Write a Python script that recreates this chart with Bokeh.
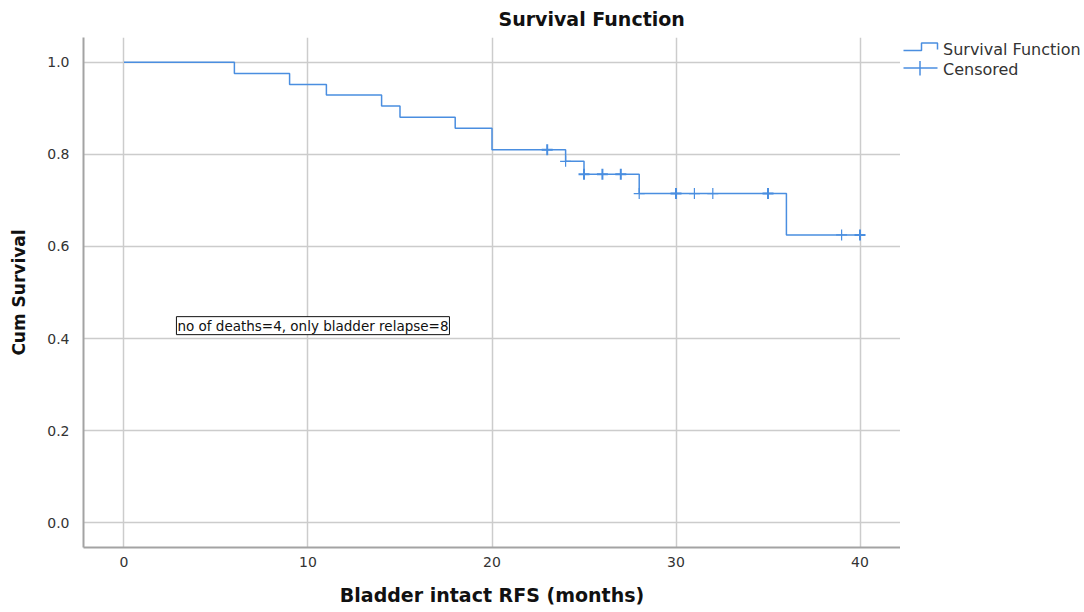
import numpy as np
from bokeh.plotting import figure
from bokeh.layouts import row
from bokeh.models import (FixedTicker, PrintfTickFormatter, Label,
                          ColumnDataSource, Range1d)
from bokeh.core.properties import value
from bokeh.embed import file_html
from bokeh.resources import INLINE

# ---- data ----
event_times = [0, 6, 9, 11, 14, 15, 18, 20, 24, 25, 28, 36]
survival = [1.0, 0.976, 0.952, 0.929, 0.905, 0.881, 0.857, 0.810, 0.785, 0.757, 0.715, 0.625]
last_followup = 40
censor_times = [23, 24, 25, 26, 27, 28, 30, 31, 32, 35, 39, 40]
censor_counts = [2, 1, 2, 2, 2, 1, 2, 1, 1, 2, 1, 2]
x_ticks = [0, 10, 20, 30, 40]
y_ticks = [0.0, 0.2, 0.4, 0.6, 0.8, 1.0]
title_text = "Survival Function"
x_label = "Bladder intact RFS (months)"
y_label = "Cum Survival"
note_text = "no of deaths=4, only bladder relapse=8"
legend_labels = ["Survival Function", "Censored"]

BLUE = "#4a8ee0"
FONT = "DejaVu Sans"

step_x = event_times + [last_followup]
step_y = survival + [survival[-1]]
idx = np.searchsorted(np.array(event_times), np.array(censor_times), side="right") - 1
censor_y = [survival[i] for i in idx]
censor_w = [2.0 if c > 1 else 1.2 for c in censor_counts]

p = figure(width=900, height=612, x_range=(-2.2, 42.2), y_range=(-0.054, 1.054),
           min_border_left=83, min_border_right=0, min_border_top=37,
           min_border_bottom=65, output_backend="svg", toolbar_location=None)
p.background_fill_color = "white"
p.border_fill_color = "white"
p.outline_line_color = None

# title
p.title.text = title_text
p.title.align = "left"
p.title.offset = 415
p.title.vertical_align = "top"
p.title.text_font = FONT
p.title.text_font_style = "bold"
p.title.text_font_size = "19px"
p.title.text_color = "#111111"
p.title.standoff = 12

# axes
for ax in (p.xaxis[0], p.yaxis[0]):
    ax.axis_line_color = "#a3a3a3"
    ax.axis_line_width = 2
    ax.major_tick_line_color = None
    ax.minor_tick_line_color = None
    ax.major_label_text_font = FONT
    ax.major_label_text_font_size = "14px"
    ax.major_label_text_color = "#333333"
    ax.axis_label_text_font = FONT
    ax.axis_label_text_font_style = "bold"
    ax.axis_label_text_color = "#111111"
p.xaxis.ticker = FixedTicker(ticks=x_ticks)
p.yaxis.ticker = FixedTicker(ticks=y_ticks)
p.yaxis.formatter = PrintfTickFormatter(format="%.1f")
p.xaxis.axis_label = x_label
p.yaxis.axis_label = y_label
p.xaxis.axis_label_text_font_size = "19px"
p.yaxis.axis_label_text_font_size = "17px"
p.xaxis.major_label_standoff = 3
p.yaxis.major_label_standoff = 8
p.xaxis.axis_label_standoff = 14
p.yaxis.axis_label_standoff = 15

# grid
p.xgrid.ticker = FixedTicker(ticks=x_ticks)
p.ygrid.ticker = FixedTicker(ticks=y_ticks)
for g in (p.xgrid[0], p.ygrid[0]):
    g.grid_line_color = "#cccccc"
    g.grid_line_width = 1.5

# survival step function
step_r = p.step(step_x, step_y, mode="after", line_color=BLUE, line_width=1.5)

# censored marks
csrc = ColumnDataSource(dict(t=censor_times, s=censor_y, w=censor_w))
cross_r = p.scatter("t", "s", source=csrc, marker="cross", size=11,
                    line_color=BLUE, line_width="w")

# note box
note = Label(x=2.85, y=0.428, text=note_text, text_font=FONT, text_font_size="13.5px",
             text_color="#111111", text_align="left", text_baseline="middle",
             border_line_color="#111111", border_line_width=1,
             background_fill_color="white", padding=1)
p.add_layout(note)

# ---- legend panel (its frame is aligned with the main frame: rows 37..547) ----
leg = figure(width=184, height=612, x_range=Range1d(0, 184), y_range=Range1d(547, 37),
             min_border=0, title=None, x_axis_location=None, y_axis_location=None,
             output_backend="svg", toolbar_location=None)
leg.grid.visible = False
leg.outline_line_color = None
leg.background_fill_color = "white"
leg.border_fill_color = "white"
# step icon
leg.line([3, 21, 21, 37, 37], [50, 50, 42.5, 42.5, 49], line_color=BLUE, line_width=1.5)
# censored icon
leg.line([3, 37], [67.5, 67.5], line_color=BLUE, line_width=1.5)
leg.line([19.5, 19.5], [60.5, 75], line_color=BLUE, line_width=1.5)
leg.text(x=[42.5, 42.5], y=[48.5, 68.5], text=legend_labels,
         text_font=value(FONT), text_font_size="16px", text_color="#333333",
         text_align="left", text_baseline="middle")

open("out.html", "w").write(file_html(row(p, leg), INLINE))
